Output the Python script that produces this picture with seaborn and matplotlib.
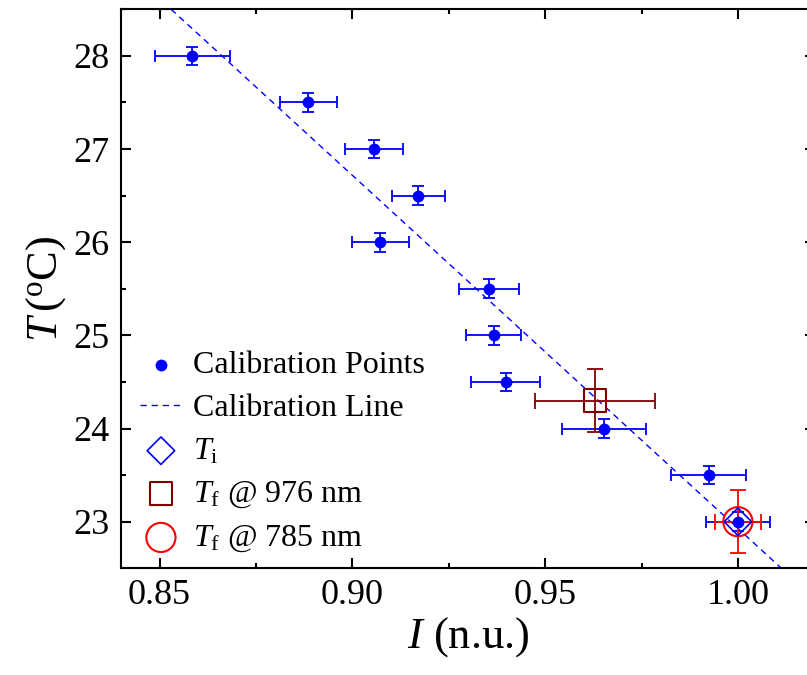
import numpy as np
import pandas as pd
import seaborn as sns
import matplotlib.pyplot as plt
from matplotlib.ticker import MultipleLocator

# Calibration points
cal_I = [0.8585, 0.8886, 0.9056, 0.9171, 0.9072, 0.9354,
         0.9367, 0.9398, 0.9652, 0.9924, 1.0000]
cal_T = [28.0, 27.5, 27.0, 26.5, 26.0, 25.5, 25.0, 24.5, 24.0, 23.5, 23.0]
cal_I_err = [0.0097, 0.0073, 0.0075, 0.0069, 0.0074, 0.0078,
             0.0071, 0.0089, 0.0109, 0.0098, 0.0082]
cal_T_err = [0.1] * 11

# Calibration line end points
line_I = [0.853, 1.0113]
line_T = [28.5, 22.5]

# Single measurements
ti_I, ti_T = [1.0], [23.0]
tf976_I, tf976_T = [0.963], [24.30]
tf976_I_err, tf976_T_err = [0.0156], [0.336]
tf785_I, tf785_T = [1.0], [23.0]
tf785_I_err, tf785_T_err = [0.0059], [0.337]

sns.set_theme(style="ticks")
plt.rcParams["font.family"] = ["Liberation Serif", "DejaVu Serif"]
plt.rcParams["mathtext.fontset"] = "custom"
plt.rcParams["mathtext.rm"] = "Liberation Serif"
plt.rcParams["mathtext.it"] = "Liberation Serif:italic"
for key in ("text.color", "axes.labelcolor", "xtick.color", "ytick.color",
            "axes.edgecolor"):
    plt.rcParams[key] = "black"

blue = "#0000FF"
maroon = "#800000"
red = "#FF0000"

fig = plt.figure(figsize=(8.07, 6.75), dpi=100)
ax = fig.add_axes([121 / 807, (675 - 568.3) / 675,
                   (815 - 121) / 807, (568.3 - 9.3) / 675])

df = pd.DataFrame({"I": cal_I, "T": cal_T})

ax.errorbar(cal_I, cal_T, xerr=cal_I_err, yerr=cal_T_err, fmt="none",
            ecolor=blue, elinewidth=1.3, capsize=4.5, capthick=1.3,
            zorder=2)
sns.lineplot(x=line_I, y=line_T, ax=ax, color=blue, lw=1.0,
             dashes=False, label="Calibration Line", zorder=1)
ax.lines[-1].set_dashes((4.5, 3.5))
ax.errorbar(tf976_I, tf976_T, xerr=tf976_I_err, yerr=tf976_T_err,
            fmt="none", ecolor=maroon, elinewidth=1.3, capsize=6,
            capthick=1.3, zorder=3)
ax.errorbar(tf785_I, tf785_T, xerr=tf785_I_err, yerr=tf785_T_err,
            fmt="none", ecolor=red, elinewidth=1.3, capsize=6,
            capthick=1.3, zorder=3)

sns.scatterplot(x=tf976_I, y=tf976_T, ax=ax, marker="s", s=16 ** 2,
                facecolor="none", edgecolor=maroon, linewidth=1.5,
                label=r"$T_{\rm f}$ @ 976 nm", zorder=4)
sns.scatterplot(x=tf785_I, y=tf785_T, ax=ax, marker="o", s=21 ** 2,
                facecolor="none", edgecolor=red, linewidth=1.5,
                label=r"$T_{\rm f}$ @ 785 nm", zorder=4)
sns.scatterplot(x=ti_I, y=ti_T, ax=ax, marker="D", s=14 ** 2,
                facecolor="none", edgecolor=blue, linewidth=1.2,
                label=r"$T_{\rm i}$", zorder=5)
sns.scatterplot(data=df, x="I", y="T", ax=ax, color=blue, s=8.5 ** 2,
                edgecolor=blue, linewidth=0, label="Calibration Points",
                zorder=6)

ax.set_xlim(0.84, 1.02)
ax.set_ylim(22.5, 28.5)
ax.xaxis.set_major_locator(MultipleLocator(0.05))
ax.xaxis.set_minor_locator(MultipleLocator(0.025))
ax.yaxis.set_major_locator(MultipleLocator(1))
ax.yaxis.set_minor_locator(MultipleLocator(0.5))
ax.xaxis.set_major_formatter(plt.FormatStrFormatter("%.2f"))
ax.tick_params(which="both", direction="in", top=True, right=True,
               width=1.5, labelsize=26, pad=8)
ax.tick_params(which="major", length=7)
ax.tick_params(which="minor", length=3.5)
for sp in ax.spines.values():
    sp.set_linewidth(1.5)

ax.set_xlabel(r"$I$ (n.u.)", fontsize=32, labelpad=2)
ax.set_ylabel(r"$T\,$(${}^{\rm o}$C)", fontsize=32, labelpad=4)

handles, labels = ax.get_legend_handles_labels()
order = ["Calibration Points", "Calibration Line", r"$T_{\rm i}$",
         r"$T_{\rm f}$ @ 976 nm", r"$T_{\rm f}$ @ 785 nm"]
hmap = dict(zip(labels, handles))
ax.legend([hmap[k] for k in order], order, loc="upper left",
          bbox_to_anchor=(0.0, 0.423), frameon=False, fontsize=23,
          handlelength=1.3, handletextpad=0.35, labelspacing=0.42,
          borderaxespad=0.2)

fig.savefig("out.png", dpi=100)
